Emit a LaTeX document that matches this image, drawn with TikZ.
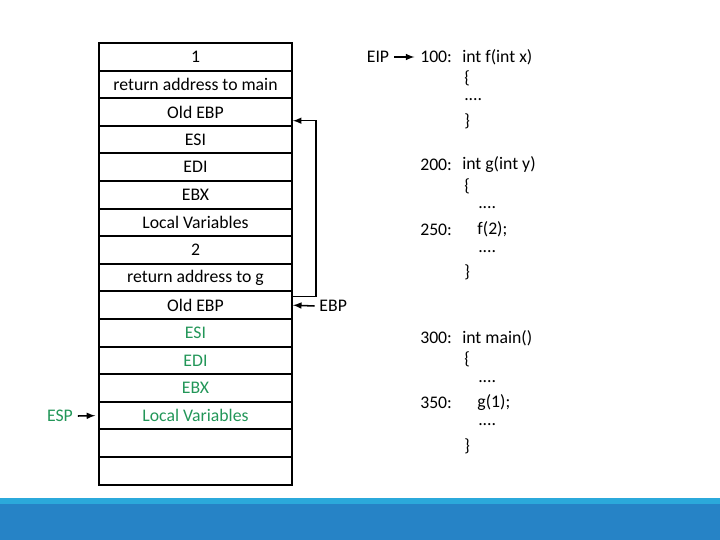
\documentclass[tikz,border=0pt]{standalone}
\usepackage{fontspec}
\setmainfont{Carlito}
\usepackage{tikz}

\definecolor{stackgreen}{RGB}{34,150,88}
\definecolor{barblue}{RGB}{38,131,198}
\definecolor{barlight}{RGB}{43,169,219}

\tikzset{
  cell/.style={draw, line width=1.3pt, minimum width=4.825cm, minimum height=0.69cm, inner sep=0pt},
  code/.style={anchor=west, inner sep=0pt},
  ptr/.style={-latex, line width=1.1pt}
}

\begin{document}
\begin{tikzpicture}[font=\fontsize{12.6}{14}\selectfont]
		\useasboundingbox (0,0) rectangle (18,13.5);
		\fill [barblue] (0,0) rectangle (18,0.9075);
		\fill [barlight] (0,0.9075) rectangle (18,1.0575);
		% the stack, frame of g on top
		\foreach \i/\t in {1/1, 2/return address to main, 3/Old EBP, 4/ESI, 5/EDI, 6/EBX, 7/Local Variables, 8/2, 9/return address to g, 10/Old EBP, 15/, 16/}
		\node [cell] (r\i) at (4.8875, {12.425-0.69*(\i-0.5)}) {\t};
		% frame of f in green
		\foreach \i/\t in {11/ESI, 12/EDI, 13/EBX, 14/Local Variables}
		\node [cell, text=stackgreen] (r\i) at (4.8875, {12.425-0.69*(\i-0.5)}) {\t};
		
		\node (ebp) at (8.33,5.85) {EBP};
		\node [text=stackgreen] (esp) at (1.5,3.1) {ESP};
		\node (eip) at (9.45,12.075) {EIP};
		\draw [ptr] (ebp.west) -- (r10.east);
		\draw [ptr, shorten >=2pt] (esp.east) -- (r14.west);
		\draw [ptr] ([yshift=-0.15cm]r10.north east) -- ++(0.575,0) |- ([yshift=0.15cm]r3.south east);
		
		\fontsize{10.6}{12}\selectfont % code listing
		\node [code] (l100) at (10.5,12.075) {100:};
		\node [code] at (11.55,12.075) {int f(int x)};
		\node [code] at (11.6,11.54) {\{};
		\node [code] at (11.6,11.0) {....};
		\node [code] at (11.6,10.46) {\}};
		\draw [ptr, shorten >=4pt] (eip.east) -- (l100.west);
		
		\node [code] at (10.5,9.375) {200:};
		\node [code] at (11.55,9.375) {int g(int y)};
		\node [code] at (11.6,8.84) {\{};
		\node [code] at (11.95,8.3) {....};
		\node [code] at (10.5,7.76) {250:};
		\node [code] at (11.93,7.76) {f(2);};
		\node [code] at (11.95,7.22) {....};
		\node [code] at (11.6,6.68) {\}};
		
		\node [code] at (10.5,5.05) {300:};
		\node [code] at (11.55,5.05) {int main()};
		\node [code] at (11.6,4.51) {\{};
		\node [code] at (11.95,3.97) {....};
		\node [code] at (10.5,3.43) {350:};
		\node [code] at (11.93,3.43) {g(1);};
		\node [code] at (11.95,2.89) {....};
		\node [code] at (11.6,2.35) {\}};
\end{tikzpicture}
\end{document}
